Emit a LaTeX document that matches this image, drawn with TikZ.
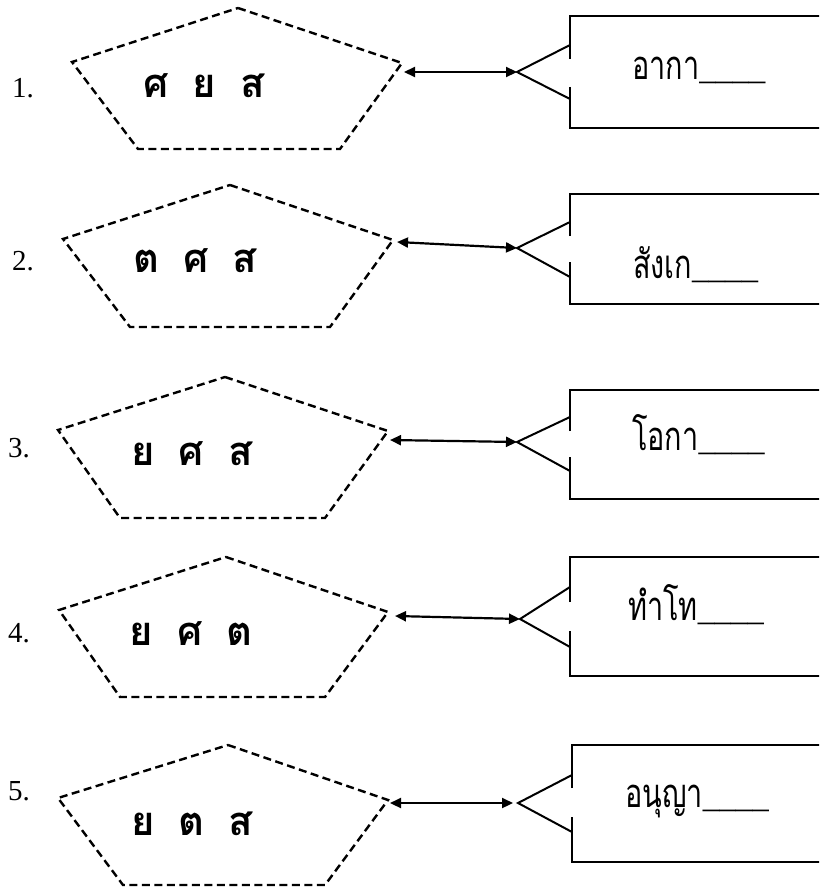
\documentclass[tikz,border=0pt]{standalone}
\usepackage{fontspec}
\setmainfont{Liberation Serif}
\newfontfamily\thaiserif[Script=Thai]{Loma}
\newfontfamily\thaicond[Script=Thai,FakeStretch=0.72]{Loma}
\newfontfamily\ulfont{Liberation Serif}
\usetikzlibrary{arrows.meta}
\tikzset{
  pent/.style={dash pattern=on 8pt off 4.5pt, line width=2.4pt},
  boxline/.style={line width=2.2pt},
  conn/.style={line width=2.2pt, {Triangle[length=11pt,width=10pt]}-{Triangle[length=11pt,width=10pt]}},
  forkline/.style={line width=2pt},
  numlbl/.style={anchor=base west, inner sep=0pt, font=\fontsize{29}{32}\selectfont},
  letters/.style={anchor=base, inner sep=0pt, font=\thaiserif\bfseries\fontsize{40}{44}\selectfont},
  word/.style={anchor=base west, inner sep=0pt, font=\thaicond\fontsize{40}{44}\selectfont}
}
\newcommand\gap{\hspace{24pt}}
\newcommand\blank{{\ulfont\fontsize{33}{36}\selectfont\_\_\_\_}}
\begin{document}
\begin{tikzpicture}[x=1pt,y=-1pt]
\path[use as bounding box, clip] (0,0) rectangle (819,888);
\fill[white] (0,0) rectangle (819,888);

% ---------- row 1
\node[numlbl] (n1) at (12,98) {1.};
\coordinate (p1t) at (238,8); \coordinate (p1r) at (402,63);
\coordinate (p1br) at (340,149); \coordinate (p1bl) at (138,149);
\coordinate (p1l) at (72,62);
\draw[pent] (p1t) -- (p1r) -- (p1br) -- (p1bl) -- (p1l) -- cycle;
\node[letters] (t1) at (204,98) {ศ\gap ย\gap ส};
\coordinate (a1) at (404,72); \coordinate (f1) at (517,72);
\draw[conn] (a1) -- (f1);
\coordinate (b1u) at (570,45); \coordinate (b1d) at (570,99);
\draw[forkline] (b1u) -- (f1) -- (b1d);
\draw[boxline] (570,59) -- (570,16) -- (830,16);
\draw[boxline] (570,87) -- (570,128) -- (830,128);
\node[word] (w1) at (632,80) {อากา\blank};

% ---------- row 2
\node[numlbl] (n2) at (12,270) {2.};
\coordinate (p2t) at (230,185); \coordinate (p2r) at (393,240);
\coordinate (p2br) at (330,327); \coordinate (p2bl) at (130,327);
\coordinate (p2l) at (63,239);
\draw[pent] (p2t) -- (p2r) -- (p2br) -- (p2bl) -- (p2l) -- cycle;
\node[letters] (t2) at (195,272) {ต\gap ศ\gap ส};
\coordinate (a2) at (397,242); \coordinate (f2) at (517,248);
\draw[conn] (a2) -- (f2);
\coordinate (b2u) at (570,222); \coordinate (b2d) at (570,277);
\draw[forkline] (b2u) -- (f2) -- (b2d);
\draw[boxline] (570,236) -- (570,194) -- (830,194);
\draw[boxline] (570,262) -- (570,304) -- (830,304);
\node[word] (w2) at (633,278) {สังเก\blank};

% ---------- row 3
\node[numlbl] (n3) at (8,457) {3.};
\coordinate (p3t) at (225,377); \coordinate (p3r) at (388,431);
\coordinate (p3br) at (325,518); \coordinate (p3bl) at (120,518);
\coordinate (p3l) at (58,430);
\draw[pent] (p3t) -- (p3r) -- (p3br) -- (p3bl) -- (p3l) -- cycle;
\node[letters] (t3) at (192,465) {ย\gap ศ\gap ส};
\coordinate (a3) at (390,440); \coordinate (f3) at (517,442);
\draw[conn] (a3) -- (f3);
\coordinate (b3u) at (570,417); \coordinate (b3d) at (570,471);
\draw[forkline] (b3u) -- (f3) -- (b3d);
\draw[boxline] (570,431) -- (570,390) -- (830,390);
\draw[boxline] (570,457) -- (570,499) -- (830,499);
\node[word] (w3) at (632,450) {โอกา\blank};

% ---------- row 4
\node[numlbl] (n4) at (8,642) {4.};
\coordinate (p4t) at (226,557); \coordinate (p4r) at (388,612);
\coordinate (p4br) at (325,697); \coordinate (p4bl) at (120,697);
\coordinate (p4l) at (59,610);
\draw[pent] (p4t) -- (p4r) -- (p4br) -- (p4bl) -- (p4l) -- cycle;
\node[letters] (t4) at (191,645) {ย\gap ศ\gap ต};
\coordinate (a4) at (395,616); \coordinate (f4) at (520,619);
\draw[conn] (a4) -- (f4);
\coordinate (b4u) at (570,587); \coordinate (b4d) at (570,647);
\draw[forkline] (b4u) -- (f4) -- (b4d);
\draw[boxline] (570,602) -- (570,557) -- (830,557);
\draw[boxline] (570,631) -- (570,676) -- (830,676);
\node[word] (w4) at (628,620) {ทำโท\blank};

% ---------- row 5
\node[numlbl] (n5) at (8,800) {5.};
\coordinate (p5t) at (228,745); \coordinate (p5r) at (388,800);
\coordinate (p5br) at (325,885); \coordinate (p5bl) at (123,885);
\coordinate (p5l) at (58,798);
\draw[pent] (p5t) -- (p5r) -- (p5br) -- (p5bl) -- (p5l) -- cycle;
\node[letters] (t5) at (192,835) {ย\gap ต\gap ส};
\coordinate (a5) at (390,803); \coordinate (f5) at (513,803);
\coordinate (f5b) at (518,803);
\draw[conn] (a5) -- (f5);
\coordinate (b5u) at (572,775); \coordinate (b5d) at (572,832);
\draw[forkline] (b5u) -- (f5b) -- (b5d);
\draw[boxline] (572,788) -- (572,745) -- (830,745);
\draw[boxline] (572,817) -- (572,862) -- (830,862);
\node[word] (w5) at (625,807) {อนุญา\blank};
\end{tikzpicture}
\end{document}
